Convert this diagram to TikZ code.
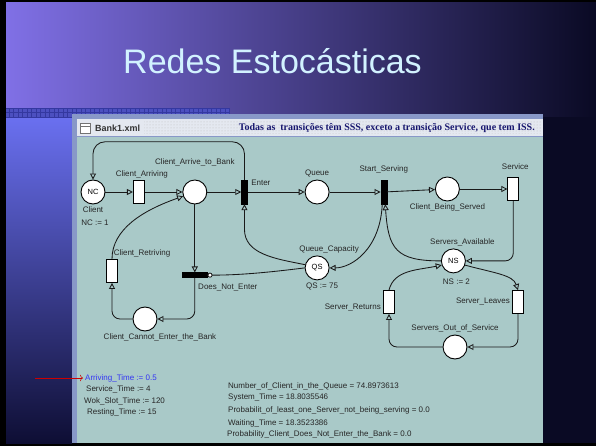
\documentclass[tikz,border=0pt]{standalone}
\usepackage{fontspec}
\setmainfont{Liberation Sans}
\newfontfamily\barfont{Liberation Serif}
\usetikzlibrary{arrows.meta, positioning, patterns}

\definecolor{canvas}{HTML}{A9C9C8}
\definecolor{frame}{HTML}{8898C8}
\definecolor{titlebar}{HTML}{E4E8F0}
\definecolor{navy}{HTML}{0A0A24}
\definecolor{violet}{HTML}{8070E6}
\definecolor{skyblue}{HTML}{3C9CF0}
\definecolor{stripblue}{HTML}{6A70F0}
\definecolor{midblue}{HTML}{3C44C4}
\definecolor{deepblue}{HTML}{0E0E34}
\definecolor{checklight}{HTML}{4C50C0}
\definecolor{checkdark}{HTML}{3438A0}
\definecolor{titletext}{HTML}{D2F2FF}
\definecolor{bartext}{HTML}{16166E}
\definecolor{inkblue}{HTML}{3434F4}

\begin{document}
\begin{tikzpicture}[x=1pt, y=-1pt]
% How the net looks
\tikzstyle{white_place} = [circle, draw=black, fill=white, line width=0.9pt, minimum size=24pt, inner sep=0pt, font=\fontsize{7.5}{8}\selectfont]
\tikzstyle{white_trans} = [rectangle, draw=black, fill=white, line width=0.9pt, minimum width=11pt, minimum height=23pt, inner sep=0pt]
\tikzstyle{black_trans} = [rectangle, draw=black, fill=black, minimum width=6pt, minimum height=24pt, inner sep=0pt]
\tikzstyle{bar_trans} = [rectangle, draw=black, fill=black, minimum width=25pt, minimum height=5pt, inner sep=0pt]
\tikzstyle{arc} = [line width=0.85pt, draw=black!90, -{Triangle[open, length=6pt, width=6pt]}]
\tikzstyle{inhib} = [line width=0.85pt, draw=black!90, -{Circle[open, fill=white, length=5pt]}]
\tikzstyle{tag} = [font=\fontsize{8}{9.5}\selectfont, text=black!85, inner sep=2pt]
\tikzset{every label/.style={tag}}
\useasboundingbox (0,0) rectangle (596,446);

% The slide behind the window
\fill [black] (0,0) rectangle (596,446);
\fill [navy] (6,3) rectangle (596,443);
\shade [left color=violet, middle color=skyblue, right color=navy] (6,3) rectangle (596,117);
\shade [top color=stripblue, middle color=midblue, bottom color=deepblue] (6,117) rectangle (72,443);
\fill [checklight] (6,108) rectangle (230,117);
\draw [step=4.5pt, checkdark, line width=0.5pt] (6,108) grid (230,117);
\node (slide_title) [anchor=base west, text=titletext, font=\fontsize{34}{40}\selectfont, inner sep=0pt] at (123,74) {Redes Estocásticas};

% The window
\fill [frame] (72,114) rectangle (543,443);
\fill [titlebar] (77,119) rectangle (543,136);
\fill [pattern=dots, pattern color=black!25] (144,121) rectangle (541,134);
\fill [canvas] (77,137) rectangle (543,443);
\draw [black!55, fill=white, line width=0.7pt] (80,123) rectangle (90,133);
\draw [black!55, line width=0.7pt] (80,126) -- (90,126);
\node (file_name) [anchor=west, text=black!80, font=\bfseries\fontsize{9}{11}\selectfont, inner sep=2pt] at (93,128.5) {Bank1.xml};
\node (window_note) [anchor=east, text=bartext, font=\barfont\bfseries\fontsize{10}{12}\selectfont, inner sep=0pt] at (535,128.5) {Todas as\ \ transições têm SSS, exceto a transição Service, que tem ISS.};

% Start initiating nodes
\node (NC) [white_place, label=below:Client, label={[yshift=-13pt, xshift=2pt]below:NC := 1}] at (93,192) {NC};
\node (client_arriving) [white_trans, right=27.5pt of NC, label={[xshift=3pt]above:Client\_Arriving}] {};
\node (cab) [white_place, right=37.5pt of client_arriving, label={[label distance=11pt]above:Client\_Arrive\_to\_Bank}] {};
\node (enter) [black_trans, right=34pt of cab, label={[label distance=2pt]above right:Enter}] {};
\node (queue) [white_place, right=57pt of enter, label=above:Queue] {};
\node (start_serving) [black_trans, right=51pt of queue, label={[label distance=4pt]above:Start\_Serving}] {};
\node (cbs) [white_place, right=48pt of start_serving, yshift=3pt, label=below:Client\_Being\_Served] {};
\node (service) [white_trans, right=47.5pt of cbs, label={[label distance=5pt, xshift=2pt]above:Service}] {};

\node (qs) [white_place, below=51pt of queue, label={[xshift=12pt]above:Queue\_Capacity}, label={[xshift=5pt]below:QS := 75}] {QS};
\node (ns) [white_place, below=47pt of cbs, xshift=6pt, label={[xshift=9pt]above:Servers\_Available}, label={[xshift=3pt, label distance=3pt]below:NS := 2}] {NS};
\node (dne) [bar_trans, below=68pt of cab, label={[xshift=33pt, label distance=4pt]below:Does\_Not\_Enter}] {};
\node (client_retriving) [white_trans, label={[xshift=30pt]above:Client\_Retriving}] at (112,271) {};
\node (cceb) [white_place, label={[xshift=15pt]below:Client\_Cannot\_Enter\_the\_Bank}] at (145,319) {};
\node (server_returns) [white_trans, label={[yshift=-6pt]left:Server\_Returns}] at (389,302) {};
\node (server_leaves) [white_trans, label=left:Server\_Leaves] at (518,302) {};
\node (sos) [white_place, label=above:Servers\_Out\_of\_Service] at (455,347) {};

% Draw arcs for connection
\draw [arc] (NC) -- (client_arriving);
\draw [arc] (client_arriving) -- (cab);
\draw [arc] (cab) -- (enter);
\draw [arc] (enter) -- (queue);
\draw [arc] (queue) -- (start_serving);
\draw [arc] (start_serving) -- (cbs);
\draw [arc] (cbs) -- (service);
\draw [arc, rounded corners=8pt] (service.south) |- (ns.east);
\draw [arc, rounded corners=12pt] (enter.north) -- ([yshift=38pt]enter.north) -| (NC.north);

\draw [arc] (cab.south) -- (dne.north);
\draw [arc, rounded corners=8pt] (dne.south) |- (cceb.east);
\draw [arc, rounded corners=8pt] (cceb.west) -| (client_retriving.south);
\draw [arc] (client_retriving.north) .. controls +(0,-30) and +(-40,14) .. (cab.200);

\draw [arc] (qs.165) .. controls +(-30,-6) and +(0,25) .. ([yshift=-25pt]enter.south) -- (enter.south);
\draw [inhib] (qs.west) .. controls +(-40,5) and +(30,0) .. (dne.east);
\draw [arc] ([xshift=-1.5pt]start_serving.south) .. controls +(-2,45) and +(22,0) .. (qs.east);
\draw [arc] (ns.west) .. controls +(-45,0) and +(3,45) .. ([xshift=1.5pt]start_serving.south);

\draw [arc] (ns.-20) .. controls +(30,8) and +(-5,-15) .. (server_leaves.north);
\draw [arc, rounded corners=8pt] (server_leaves.south) |- (sos.east);
\draw [arc, rounded corners=8pt] (sos.west) -| (server_returns.south);
\draw [arc] (server_returns.north) .. controls +(5,-20) and +(-25,5) .. (ns.200);

% Values under the net
\coordinate (pointer) at (35,378);
\node (arriving_time) [tag, anchor=west, text=inkblue] at (83,378) {Arriving\_Time := 0.5};
\node (service_time) [tag, anchor=west] at (84,389) {Service\_Time := 4};
\node (slot_time) [tag, anchor=west] at (82,401) {Wok\_Slot\_Time := 120};
\node (resting_time) [tag, anchor=west] at (85,412) {Resting\_Time := 15};
\draw [red!80!black, line width=0.6pt, -{To[length=3pt]}] (pointer) -- (arriving_time.west);

\node (queue_size) [tag, anchor=west] at (226,386) {Number\_of\_Client\_in\_the\_Queue = 74.8973613};
\node (system_time) [tag, anchor=west] at (226,397) {System\_Time = 18.8035546};
\node (idle_prob) [tag, anchor=west] at (226,410) {Probabilit\_of\_least\_one\_Server\_not\_being\_serving = 0.0};
\node (waiting_time) [tag, anchor=west] at (226,423) {Waiting\_Time = 18.3523386};
\node (reject_prob) [tag, anchor=west] at (225,434) {Probability\_Client\_Does\_Not\_Enter\_the\_Bank = 0.0};
\end{tikzpicture}
\end{document}
